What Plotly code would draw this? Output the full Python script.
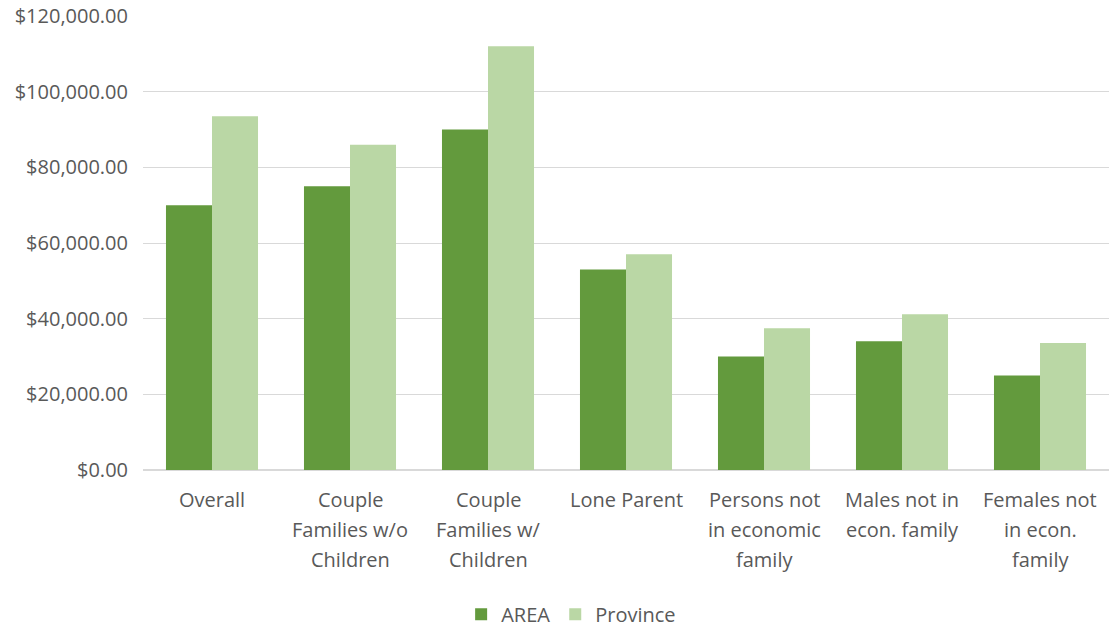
import plotly.graph_objects as go

categories = ["Overall", "Couple Families w/o Children", "Couple Families w/ Children",
              "Lone Parent", "Persons not in economic family",
              "Males not in econ. family", "Females not in econ. family"]
label_lines = [["Overall"],
               ["Couple", "Families w/o", "Children"],
               ["Couple", "Families w/", "Children"],
               ["Lone Parent"],
               ["Persons not", "in economic", "family"],
               ["Males not in", "econ. family"],
               ["Females not", "in econ.", "family"]]
area = [70000, 75000, 90000, 53000, 30000, 34000, 25000]
province = [93500, 86000, 112000, 57000, 37500, 41200, 33600]
y_ticks = [0, 20000, 40000, 60000, 80000, 100000, 120000]
y_tick_text = ["$0.00", "$20,000.00", "$40,000.00", "$60,000.00",
               "$80,000.00", "$100,000.00", "$120,000.00"]

FONT = "Open Sans"
GRAY = "#595959"
FS = 20

fig = go.Figure()
fig.add_trace(go.Bar(name="AREA", x=categories, y=area, marker_color="#639A3D",
                     marker_line_width=0))
fig.add_trace(go.Bar(name="Province", x=categories, y=province, marker_color="#BAD7A5",
                     marker_line_width=0))

annotations = []
for cat, lines in zip(categories, label_lines):
    for i, ln in enumerate(lines):
        annotations.append(dict(x=cat, xref="x", y=0, yref="y", text=ln, showarrow=False,
                                yanchor="middle", xanchor="center", yshift=-29 - 30 * i,
                                font=dict(family=FONT, size=FS, color=GRAY)))

fig.update_layout(
    width=1109, height=628,
    margin=dict(l=143, r=0, t=16, b=158, autoexpand=False),
    paper_bgcolor="white", plot_bgcolor="white",
    barmode="group", bargap=0.333, bargroupgap=0,
    font=dict(family=FONT, size=FS, color=GRAY),
    xaxis=dict(showticklabels=False, showgrid=False, showline=False, zeroline=False,
               ticks=""),
    yaxis=dict(range=[0, 120000], tickvals=y_ticks, ticktext=y_tick_text,
               showgrid=True, gridcolor="#D9D9D9", gridwidth=1,
               zeroline=True, zerolinecolor="#D9D9D9", zerolinewidth=1.5,
               showline=False, ticks="", ticklabelstandoff=14,
               tickfont=dict(family=FONT, size=FS, color=GRAY)),
    legend=dict(orientation="h", x=0.515, xanchor="center", xref="container",
                y=0.022, yref="container", yanchor="middle",
                font=dict(family=FONT, size=FS, color=GRAY),
                itemwidth=30, traceorder="normal"),
    annotations=annotations,
)

fig.write_html("out.html")
